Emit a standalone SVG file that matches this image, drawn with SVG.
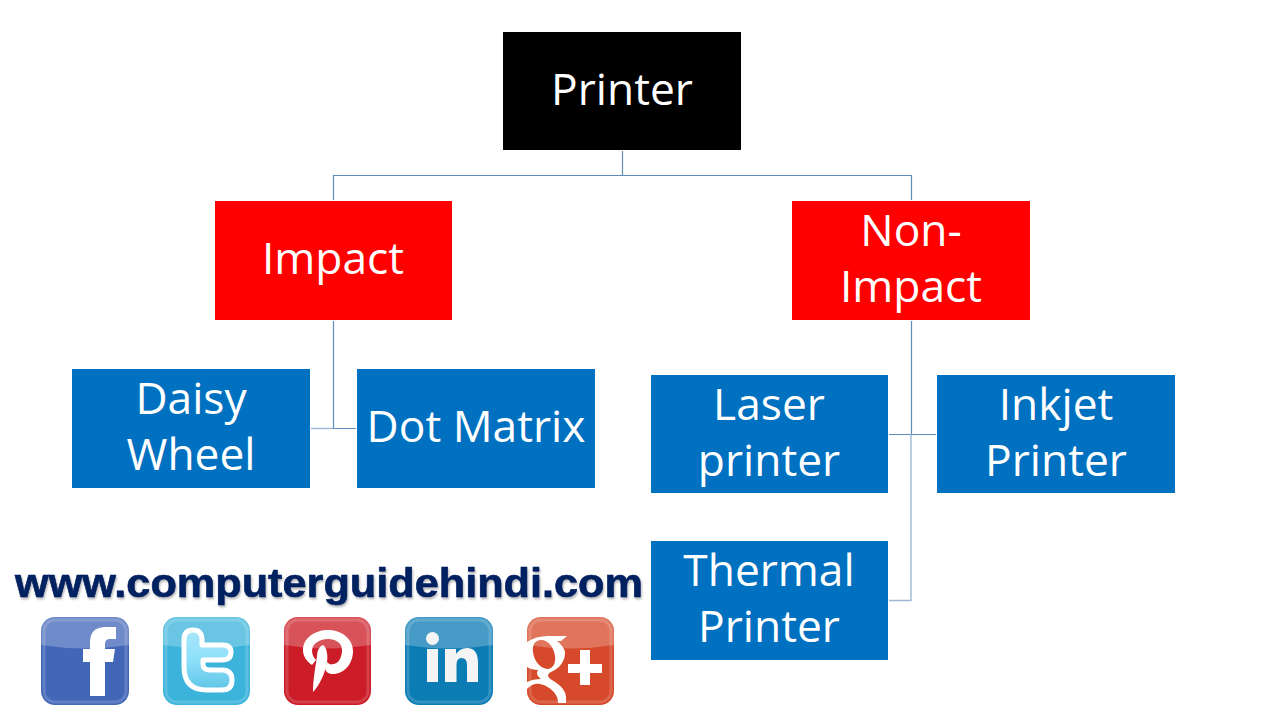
<svg xmlns="http://www.w3.org/2000/svg" width="1280" height="720" viewBox="0 0 1280 720">
<style>
.lbl{font-family:"Open Sans","Noto Sans","Liberation Sans",sans-serif;font-size:44.3px;fill:#fff;text-anchor:middle}
.c{fill:none;stroke:#5f8bb8;stroke-width:1.2}
.l{fill:none;stroke:#9db8d6;stroke-width:1.4}
.gloss{fill:#fff;fill-opacity:.24}
.rim{fill:none;stroke:#fff;stroke-opacity:.16;stroke-width:3}
.url{font-family:"Liberation Sans",Arial,sans-serif;font-weight:bold;font-size:40px;fill:#002060;stroke:#002060;stroke-width:.6}
</style>
<defs>
<filter id="sh" x="-5%" y="-20%" width="110%" height="150%"><feDropShadow dx="1" dy="2" stdDeviation="1.2" flood-color="#000" flood-opacity=".3"/></filter>
<linearGradient id="tw" x1="0" y1="0" x2="0" y2="1"><stop offset="0" stop-color="#a8e6fa"/><stop offset=".5" stop-color="#8ee0fa"/><stop offset="1" stop-color="#5fc4e6"/></linearGradient>
</defs>
<rect width="1280" height="720" fill="#fff"/>
<g id="connectors">
<path class="c" d="M622.500 151V175.500M333.500 200V175.500H911.500V200"/>
<path class="c" d="M333.500 321V428.500H356"/>
<path class="l" d="M333 428.500H311"/>
<path class="c" d="M911.500 321V434.500M889 434.500H936"/>
<path class="l" d="M911 434.500V600.500H889"/>
</g>
<g id="printer"><rect x="503" y="32" width="238" height="118" fill="#000"/><text class="lbl" x="622" y="105">Printer</text></g>
<g id="impact"><rect x="215" y="201" width="237" height="119" fill="#f00"/><text class="lbl" x="333" y="274">Impact</text></g>
<g id="non-impact"><rect x="792" y="201" width="238" height="119" fill="#f00"/><text class="lbl" x="911" y="246">Non-</text><text class="lbl" x="911" y="302">Impact</text></g>
<g id="daisy-wheel"><rect x="72" y="369" width="238" height="119" fill="#0070c0"/><text class="lbl" x="191" y="414">Daisy</text><text class="lbl" x="191" y="470">Wheel</text></g>
<g id="dot-matrix"><rect x="357" y="369" width="238" height="119" fill="#0070c0"/><text class="lbl" x="476" y="442">Dot Matrix</text></g>
<g id="laser-printer"><rect x="651" y="375" width="237" height="118" fill="#0070c0"/><text class="lbl" x="769" y="420">Laser</text><text class="lbl" x="769" y="476">printer</text></g>
<g id="inkjet-printer"><rect x="937" y="375" width="238" height="118" fill="#0070c0"/><text class="lbl" x="1056" y="420">Inkjet</text><text class="lbl" x="1056" y="476">Printer</text></g>
<g id="thermal-printer"><rect x="651" y="541" width="237" height="119" fill="#0070c0"/><text class="lbl" x="769" y="586">Thermal</text><text class="lbl" x="769" y="642">Printer</text></g>
<text class="url" x="15" y="596.500" textLength="628" lengthAdjust="spacingAndGlyphs" filter="url(#sh)">www.computerguidehindi.com</text>
<g id="facebook">
<rect x="41" y="617" width="88" height="88" rx="14" fill="#4367b8"/>
<path class="gloss" d="M41 645V631a14 14 0 0 1 14-14h60a14 14 0 0 1 14 14v14q-44 7-88 0z"/>
<rect class="rim" x="44" y="620" width="82" height="82" rx="11"/>
<path fill="#fff" d="M90 696V662H83V649H90V642Q90 627 106 627H116V639H110Q105 639 105 644V649H115L113 662H105V696Z"/>
</g>
<g id="twitter">
<rect x="163" y="617" width="87" height="88" rx="14" fill="#3bb3da"/>
<path class="gloss" d="M163 645V631a14 14 0 0 1 14-14h59a14 14 0 0 1 14 14v14q-44 7-87 0z"/>
<rect class="rim" x="166" y="620" width="81" height="82" rx="11"/>
<path fill="url(#tw)" stroke="#fff" stroke-width="5" stroke-linejoin="round" d="M184 640Q184 630 193 630Q202 630 202 640V645H222Q231 645 231 652Q231 660 222 660H203V664Q203 670 210 670H222Q232 670 232 680Q232 690 222 690H207Q184 690 184 667Z"/>
</g>
<g id="pinterest">
<rect x="284" y="617" width="87" height="88" rx="14" fill="#cc1c27"/>
<path class="gloss" d="M284 645V631a14 14 0 0 1 14-14h59a14 14 0 0 1 14 14v14q-44 7-87 0z"/>
<rect class="rim" x="287" y="620" width="81" height="82" rx="11"/>
<path fill="#fff" d="M312 665C306 661 303 656 303 650C303 638 315 630 328 630C343 630 353 640 353 651C353 664 344 674 333 674C329 674 326 672 325 669L327 662C329 664 331 665 333 664C338 664 342 658 342 650C342 643 336 639 328 639C320 639 313 643 312 650C312 655 314 658 316 660Z"/>
<path fill="#fff" d="M323 645C327 648 328 655 327 662C325 674 319 686 313 692C313 680 315 670 317 656C317 651 319 647 323 645Z"/>
</g>
<g id="linkedin">
<rect x="405" y="617" width="88" height="88" rx="14" fill="#0b7cb4"/>
<path class="gloss" d="M405 645V631a14 14 0 0 1 14-14h60a14 14 0 0 1 14 14v14q-44 7-88 0z"/>
<rect class="rim" x="408" y="620" width="82" height="82" rx="11"/>
<path fill="#f4f4f4" d="M427 649H438V682H427ZM432.500 632a6.500 6.500 0 1 1 0 13a6.500 6.500 0 0 1 0-13ZM445 649H456V654Q460 648 467 648Q478 648 478 663V682H467V665Q467 658 461.500 658Q456.500 658 456.500 665V682H445Z"/>
</g>
<g id="google-plus">
<rect x="527" y="617" width="87" height="88" rx="14" fill="#d6492a"/>
<path class="gloss" d="M527 645V631a14 14 0 0 1 14-14h59a14 14 0 0 1 14 14v14q-44 7-87 0z"/>
<rect class="rim" x="530" y="620" width="81" height="82" rx="11"/>
<path fill="#fff" fill-rule="evenodd" d="M527 642C533 638 540 636 548 636H567L561 641H557C563 646 565 650 565 653C565 664 556 670 551 672C547 674 547 677 552 680C562 686 567 692 566 700V703H558C559 695 550 686 540 684C534 683 530 686 527 689V682C531 680 536 679 541 679C537 676 536 673 538 670C534 670 530 669 527 667ZM541 640C535 640 532 645 533 652C534 661 540 668 547 669C553 669 556 663 555 656C554 648 549 640 541 640Z"/>
<path fill="#fff" d="M580 650H590V664H602V673H590V685H580V673H568V664H580Z"/>
</g>
</svg>
